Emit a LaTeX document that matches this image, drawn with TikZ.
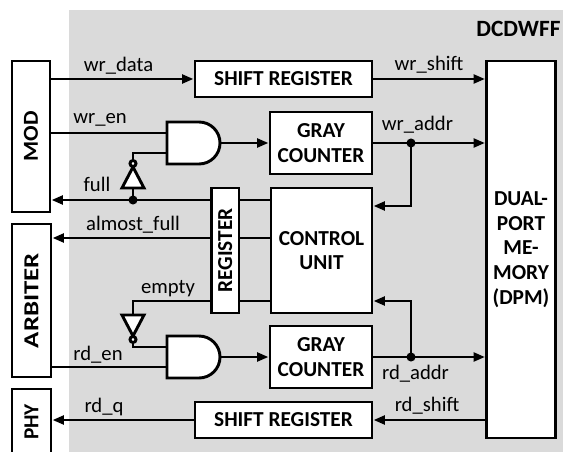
\documentclass[tikz,border=0pt]{standalone}
\usepackage{fontspec}
\setmainfont{Carlito}
\usepackage{graphicx}
\usetikzlibrary{arrows.meta}

\tikzset{every picture/.style={line width=2.2pt}}
\tikzset{
  blk/.style={draw, fill=white, inner sep=0pt, align=center, font=\fontsize{16}{18.5}\selectfont\bfseries},
  sz/.style 2 args={minimum width=#1*0.75pt, minimum height=#2*0.75pt},
  sig/.style={anchor=base, inner sep=0pt, font=\fontsize{15.5}{18}\selectfont},
  arr/.style={-{Triangle[length=8.5pt,width=6.5pt]}},
  jdot/.style={circle, fill, inner sep=0pt, minimum size=6.8pt}
}

\begin{document}
\begin{tikzpicture}[x=0.75pt,y=0.75pt,yscale=-1,xscale=1]
	\useasboundingbox (0,0) rectangle (563,452);

	%Shape: Rectangle (FIFO area)
	\fill [fill={rgb, 255:red, 218; green, 218; blue, 218 }] (69,10) rectangle (568,458);
	\node [anchor=base east, inner sep=0pt, font=\fontsize{17.5}{20}\selectfont\bfseries] (title) at (562,36.5) {DCDWFF};

	%Blocks
	\node [blk, sz={38}{151}] (mod) at (31,136.5) {\rotatebox{90}{\scalebox{1.08}[1]{MOD}}};
	\node [blk, sz={39}{153}] (arb) at (31.5,300.5) {\rotatebox{90}{\scalebox{1.26}[1]{ARBITER}}};
	\node [blk, sz={39}{66}] (phy) at (31.5,422) {\rotatebox{90}{PHY}};
	\node [blk, sz={69}{377}] (dpm) at (521,249.5) {DUAL-\\PORT\\ME-\\MORY\\(DPM)};
	\node [blk, sz={177}{36}] (shw) at (283.5,79) {SHIFT REGISTER};
	\node [blk, sz={102}{62}] (gcw) at (321,143) {GRAY\\COUNTER};
	\node [blk, sz={101}{125}] (cu) at (321.5,250.5) {CONTROL\\UNIT};
	\node [blk, sz={27.5}{125}] (reg) at (225.25,250.5) {\rotatebox{90}{REGISTER}};
	\node [blk, sz={102}{62}] (gcr) at (321,357) {GRAY\\COUNTER};
	\node [blk, sz={177}{36}] (shr) at (283.5,420) {SHIFT REGISTER};

	%Shape: And Gate (write)
	\draw [fill=white] (167,122) -- (199,122) arc [start angle=-90, end angle=90, radius=21] -- (167,164) -- cycle ;
	\coordinate (wa1) at (167,133);
	\coordinate (wa2) at (167,153);
	\coordinate (wao) at (220,143);
	%Shape: And Gate (read)
	\draw [fill=white] (167,336) -- (199,336) arc [start angle=-90, end angle=90, radius=21] -- (167,378) -- cycle ;
	\coordinate (ra1) at (167,347);
	\coordinate (ra2) at (167,367);
	\coordinate (rao) at (220,357);

	%Shape: Inverter (full)
	\draw [fill=white] (122,188) -- (144,188) -- (133,167) -- cycle ;
	\draw [fill=white] (133,163.5) circle [radius=3] ;
	\coordinate (fib) at (133,188);
	\coordinate (fit) at (133,160.5);
	%Shape: Inverter (empty)
	\draw [fill=white] (122,315) -- (144,315) -- (133,336) -- cycle ;
	\draw [fill=white] (133,339.5) circle [radius=3] ;
	\coordinate (eib) at (133,315);
	\coordinate (eit) at (133,342.5);

	%Taps
	\coordinate (fl) at (211,200);
	\coordinate (af) at (211,238);
	\coordinate (em) at (211,301);
	\coordinate (cuw) at (372,206);
	\coordinate (cur) at (372,301);
	\node [jdot] (fdot) at (133,200) {};
	\node [jdot] (wdot) at (411,143) {};
	\node [jdot] (rdot) at (411,357) {};

	%Write path
	\draw [arr] (mod.east |- shw.west) -- (shw.west) ;
	\draw [arr] (shw.east) -- (dpm.west |- shw.east) ;
	\draw (mod.east |- wa1) -- (wa1) ;
	\draw [arr] (wao) -- (gcw.west |- wao) ;
	\draw [arr] (gcw.east) -- (dpm.west |- gcw.east) ;
	\draw [arr] (wdot.center) |- (cu.east |- cuw) ;

	%Status flags
	\draw (cu.west |- fl) -- (reg.east |- fl) ;
	\draw (cu.west |- af) -- (reg.east |- af) ;
	\draw (cu.west |- em) -- (reg.east |- em) ;
	\draw [arr] (reg.west |- fl) -- (mod.east |- fl) ;
	\draw (fdot.center) -- (fib) ;
	\draw (fit) |- (wa2) ;
	\draw [arr] (reg.west |- af) -- (arb.east |- af) ;
	\draw (reg.west |- em) -| (eib) ;
	\draw (eit) |- (ra1) ;

	%Read path
	\draw (arb.east |- ra2) -- (ra2) ;
	\draw [arr] (rao) -- (gcr.west |- rao) ;
	\draw [arr] (gcr.east) -- (dpm.west |- gcr.east) ;
	\draw [arr] (rdot.center) |- (cu.east |- cur) ;
	\draw [arr] (dpm.west |- shr.east) -- (shr.east) ;
	\draw [arr] (shr.west) -- (phy.east |- shr.west) ;

	%Signal names
	\node [sig] (lwd) at (118.5,72) {wr\_data};
	\node [sig] (lwe) at (100,124) {wr\_en};
	\node [sig] (lfu) at (97,191.5) {full};
	\node [sig] (laf) at (133,230) {almost\_full};
	\node [sig] (lem) at (168,293) {empty};
	\node [sig] (lre) at (98,360) {rd\_en};
	\node [sig] (lrq) at (104,412) {rd\_q};
	\node [sig] (lws) at (429,70.5) {wr\_shift};
	\node [sig] (lwa) at (417.5,130.5) {wr\_addr};
	\node [sig] (lra) at (415.5,379) {rd\_addr};
	\node [sig] (lrs) at (427,411.5) {rd\_shift};

\end{tikzpicture}
\end{document}
